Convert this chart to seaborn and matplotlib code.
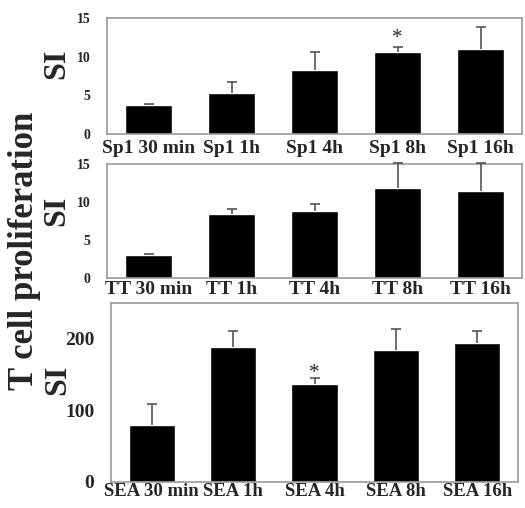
import numpy as np
import matplotlib
matplotlib.use('Agg')
import matplotlib.pyplot as plt
import matplotlib.transforms as mtransforms
import seaborn as sns

sns.set_style('white')
plt.rcParams['font.family'] = ['Liberation Serif', 'DejaVu Serif']
plt.rcParams['font.weight'] = 'bold'

# data
sp1_labels = ['Sp1 30 min', 'Sp1 1h', 'Sp1 4h', 'Sp1 8h', 'Sp1 16h']
sp1_mean = [3.75, 5.3, 8.3, 10.6, 11.0]
sp1_upper = [3.9, 6.7, 10.6, 11.2, 13.8]

tt_labels = ['TT 30 min', 'TT 1h', 'TT 4h', 'TT 8h', 'TT 16h']
tt_mean = [3.0, 8.4, 8.8, 11.8, 11.45]
tt_upper = [3.1, 9.1, 9.8, 15.1, 15.1]

sea_labels = ['SEA 30 min', 'SEA 1h', 'SEA 4h', 'SEA 8h', 'SEA 16h']
sea_mean = [80, 188, 137, 184, 194]
sea_upper = [109, 211, 145, 213, 211]

W, H = 525, 508
fig = plt.figure(figsize=(W / 100, H / 100), dpi=100)


def make_axes(left, right, top, bottom):
    return fig.add_axes([left / W, 1 - bottom / H, (right - left) / W, (bottom - top) / H])


def draw_panel(ax, labels, mean, upper, ylim, yticks, ytick_size, xtick_size, xpad, shifts):
    sns.barplot(x=labels, y=mean, color='black', width=0.57, ax=ax)
    x = np.arange(len(labels))
    # upward error bars only, cap on top
    ax.vlines(x, mean, upper, color='#555555', linewidth=1.2, zorder=3, clip_on=False)
    ax.scatter(x, upper, marker='_', s=60, color='#555555', linewidths=1.2,
               zorder=3, clip_on=False)
    ax.set_xlim(-0.5, len(labels) - 0.5)
    ax.set_ylim(*ylim)
    ax.set_yticks(yticks)
    ax.set_yticklabels([str(t) for t in yticks], fontsize=ytick_size, fontweight='bold')
    ax.set_xticks(x)
    ax.set_xticklabels(labels, fontsize=xtick_size, fontweight='bold')
    # labels in the original sit a few px off the bar centres
    for lab, dx in zip(ax.get_xticklabels(), shifts):
        lab.set_transform(lab.get_transform() +
                          mtransforms.ScaledTranslation(dx / 100, 0, fig.dpi_scale_trans))
    ax.tick_params(axis='x', length=0, pad=xpad)
    ax.tick_params(axis='y', length=4, width=1, color='#aaaaaa', direction='out', pad=8)
    for s in ax.spines.values():
        s.set_color('#999999')
        s.set_linewidth(1.2)
    ax.set_xlabel('')
    ax.set_ylabel('')


ax1 = make_axes(107, 522, 18, 134)
draw_panel(ax1, sp1_labels, sp1_mean, sp1_upper, (0, 15), [0, 5, 10, 15], 10, 14, 4,
           [9, 12, 1, 4, 6])
ax1.text(3, 12.3, '*', ha='center', va='center', fontsize=15, fontweight='normal')

ax2 = make_axes(107, 522, 164, 278)
draw_panel(ax2, tt_labels, tt_mean, tt_upper, (0, 15), [0, 5, 10, 15], 10, 14, 2,
           [9, 4, 4, 2, 0])

ax3 = make_axes(111, 518, 303, 482)
draw_panel(ax3, sea_labels, sea_mean, sea_upper, (0, 250), [0, 100, 200], 14, 13.5, 1,
           [-3, 4, 3, 6, 6])
ax3.text(2, 152, '*', ha='center', va='center', fontsize=15, fontweight='normal')

# axis titles
fig.text(57 / W, 1 - 64 / H, 'SI', rotation=90, ha='center', va='center', fontsize=23, fontweight='bold')
fig.text(57 / W, 1 - 211 / H, 'SI', rotation=90, ha='center', va='center', fontsize=23, fontweight='bold')
fig.text(58 / W, 1 - 380 / H, 'SI', rotation=90, ha='center', va='center', fontsize=23, fontweight='bold')
fig.text(25 / W, 1 - 251 / H, 'T cell proliferation', rotation=90, ha='center', va='center',
         fontsize=25, fontweight='bold')

fig.savefig('out.png', dpi=100)
